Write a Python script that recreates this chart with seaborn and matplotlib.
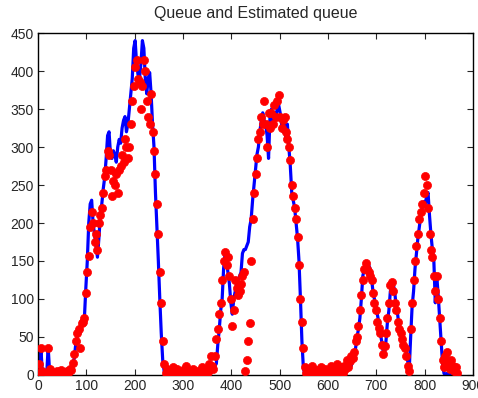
import numpy as np
import matplotlib
matplotlib.use("Agg")
import matplotlib.pyplot as plt
import seaborn as sns

# time grid (step 3)
t = list(range(0, 870, 3))

queue = [
    0, 5, 35, 3, 0, 2, 1, 37, 4, 0,
    2, 0, 1, 3, 0, 2, 4, 1, 0, 3,
    2, 5, 3, 8, 15, 22, 40, 50, 58, 55,
    65, 70, 75, 115, 150, 200, 225, 230, 200, 185,
    170, 155, 180, 210, 225, 245, 260, 285, 315, 320,
    290, 285, 295, 290, 280, 300, 310, 305, 325, 335,
    340, 320, 330, 350, 370, 390, 430, 440, 410, 395,
    390, 410, 440, 430, 390, 370, 390, 398, 370, 330,
    300, 240, 195, 150, 100, 55, 20, 5, 0, 0,
    3, 0, 2, 0, 0, 4, 1, 0, 2, 0,
    0, 3, 0, 1, 0, 2, 5, 0, 0, 2,
    0, 1, 4, 0, 2, 0, 3, 5, 2, 8,
    10, 5, 12, 15, 40, 60, 85, 100, 140, 160,
    150, 135, 120, 95, 80, 100, 110, 120, 125, 130,
    135, 160, 165, 165, 170, 175, 195, 205, 230, 250,
    270, 290, 300, 320, 335, 345, 335, 330, 315, 285,
    340, 350, 330, 345, 340, 350, 355, 345, 330, 320,
    335, 310, 330, 300, 275, 240, 230, 220, 200, 180,
    150, 100, 45, 10, 0, 0, 2, 0, 5, 0,
    1, 0, 3, 0, 0, 2, 0, 4, 1, 0,
    2, 0, 0, 3, 1, 0, 2, 5, 3, 4,
    5, 5, 8, 10, 12, 15, 12, 20, 25, 35,
    50, 60, 75, 100, 130, 140, 142, 145, 145, 140,
    128, 110, 100, 90, 80, 70, 55, 45, 32, 28,
    45, 70, 85, 110, 118, 120, 110, 90, 80, 65,
    58, 50, 45, 38, 30, 18, 6, 50, 90, 110,
    140, 160, 180, 195, 210, 220, 228, 225, 235, 240,
    210, 185, 165, 150, 95, 130, 105, 75, 45, 15,
    2, 0, 2, 0, 0, 3, 0, 0, 1, 0,
]

estimated = [
    2, 15, 35, 5, 0, 3, 0, 36, 8, 2,
    0, 3, 0, 5, 2, 0, 7, 3, 0, 4,
    5, 2, 8, 6, 16, 28, 45, 55, 60, 35,
    68, 70, 75, 108, 135, 157, 195, 215, 200, 175,
    185, 165, 200, 210, 220, 240, 262, 270, 295, 290,
    270, 235, 255, 250, 265, 240, 270, 275, 290, 280,
    310, 300, 285, 300, 330, 360, 380, 405, 415, 390,
    385, 350, 380, 415, 400, 360, 340, 330, 370, 320,
    295, 265, 225, 185, 135, 95, 45, 15, 3, 8,
    0, 5, 2, 10, 0, 3, 8, 0, 4, 2,
    6, 0, 12, 3, 0, 5, 2, 8, 0, 3,
    5, 0, 2, 10, 3, 0, 6, 4, 15, 25,
    12, 8, 25, 48, 60, 80, 95, 125, 150, 162,
    145, 155, 130, 100, 65, 85, 125, 115, 105, 110,
    120, 130, 135, 5, 20, 45, 68, 150, 205, 240,
    265, 285, 310, 320, 340, 330, 360, 330, 300, 345,
    325, 345, 330, 355, 340, 360, 368, 340, 325, 335,
    340, 320, 310, 300, 283, 250, 235, 220, 205, 182,
    145, 100, 70, 35, 10, 2, 8, 0, 5, 12,
    3, 0, 6, 2, 0, 10, 4, 0, 8, 2,
    5, 0, 12, 3, 6, 0, 15, 8, 5, 10,
    3, 12, 8, 20, 10, 18, 25, 22, 30, 45,
    50, 65, 85, 105, 125, 140, 148, 140, 135, 130,
    125, 108, 95, 85, 70, 62, 55, 40, 28, 38,
    55, 75, 95, 118, 122, 110, 95, 85, 70, 60,
    55, 48, 40, 35, 25, 12, 5, 60, 95, 125,
    150, 170, 185, 205, 215, 225, 240, 262, 250, 220,
    185, 165, 155, 130, 110, 130, 100, 75, 45, 20,
    10, 25, 30, 15, 8, 20, 12, 5, 10, 3,
]

title = "Queue and Estimated queue"
xticks = [0, 100, 200, 300, 400, 500, 600, 700, 800, 900]
yticks = [0, 50, 100, 150, 200, 250, 300, 350, 400, 450]

sns.set_style("white")
plt.rcParams['font.family'] = ['Liberation Sans', 'DejaVu Sans']

fig = plt.figure(figsize=(4.78, 3.98), dpi=100)
ax = fig.add_axes([38/478, 1 - 375/398, 435/478, 342/398])

sns.lineplot(x=t, y=queue, color=(0, 0, 1), linewidth=2.3, ax=ax)
sns.scatterplot(x=t, y=estimated, color=(1, 0, 0), s=34, edgecolor=(1, 0, 0),
                linewidth=0.5, ax=ax, zorder=3)

ax.set_xlim(0, 900)
ax.set_ylim(0, 450)
ax.set_xticks(xticks)
ax.set_yticks(yticks)
ax.tick_params(direction='in', length=4, width=0.8, labelsize=10,
               top=True, right=True, bottom=True, left=True, pad=3)
for s in ax.spines.values():
    s.set_color('black')
    s.set_linewidth(1.0)
ax.set_title(title, fontsize=11.5, pad=11)

fig.savefig("out.png", dpi=100)
